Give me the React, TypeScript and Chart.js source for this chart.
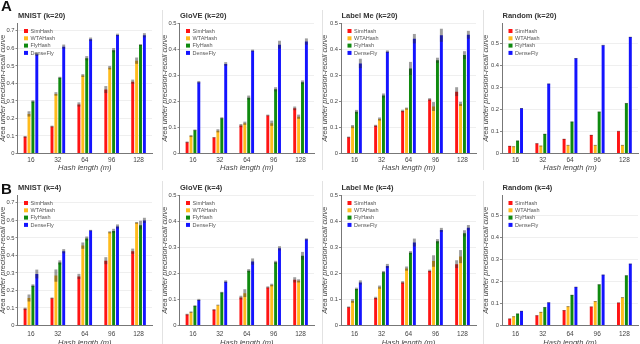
import React, { useEffect, useRef } from 'react';
import { Chart, registerables } from 'chart.js';
Chart.register(...registerables);

const FONT = '"Liberation Sans", Arial, sans-serif';

const hashLengths = ['16', '32', '64', '96', '128'];
const methods = ['SimHash', 'WTAHash', 'FlyHash', 'DenseFly'];
const methodColors = ['#ff1414', '#ffbb1c', '#0f8a0f', '#1414ff'];

// Row A (k=20): rows = SimHash, WTAHash, FlyHash, DenseFly
const mnist20 = [
  [0.095, 0.154, 0.28, 0.365, 0.41],
  [0.226, 0.34, 0.445, 0.49, 0.53],
  [0.297, 0.433, 0.544, 0.59, 0.62],
  [0.567, 0.61, 0.652, 0.677, 0.675],
];
const mnist20Err = [
  [0.005, 0.005, 0.012, 0.02, 0.012],
  [0.015, 0.01, 0.008, 0.01, 0.018],
  [0.007, 0.005, 0.012, 0.012, 0.005],
  [0.01, 0.012, 0.01, 0.007, 0.012],
];
const glove20 = [
  [0.043, 0.061, 0.107, 0.146, 0.173],
  [0.067, 0.087, 0.116, 0.116, 0.141],
  [0.089, 0.135, 0.214, 0.246, 0.273],
  [0.273, 0.343, 0.394, 0.417, 0.429],
];
const glove20Err = [
  [0.003, 0.002, 0.006, 0.003, 0.007],
  [0.004, 0.006, 0.006, 0.01, 0.008],
  [0.003, 0.004, 0.008, 0.008, 0.007],
  [0.005, 0.007, 0.004, 0.015, 0.012],
];
const labelme20 = [
  [0.062, 0.106, 0.163, 0.207, 0.237],
  [0.103, 0.132, 0.172, 0.18, 0.19],
  [0.16, 0.222, 0.326, 0.357, 0.377],
  [0.345, 0.39, 0.44, 0.453, 0.455],
];
const labelme20Err = [
  [0.003, 0.004, 0.005, 0.005, 0.017],
  [0.006, 0.006, 0.004, 0.017, 0.008],
  [0.007, 0.008, 0.025, 0.01, 0.015],
  [0.018, 0.005, 0.018, 0.025, 0.015],
];
const random20 = [
  [0.034, 0.046, 0.066, 0.084, 0.102],
  [0.032, 0.035, 0.038, 0.038, 0.038],
  [0.058, 0.089, 0.145, 0.19, 0.229],
  [0.206, 0.318, 0.434, 0.494, 0.531],
];
const random20Err = [
  [0.0015, 0.0015, 0.0015, 0.0015, 0.0015],
  [0.0015, 0.0015, 0.0015, 0.0015, 0.0015],
  [0.0015, 0.0015, 0.0015, 0.0015, 0.0015],
  [0.0015, 0.0015, 0.0015, 0.0015, 0.0015],
];

// Row B (k=4)
const mnist4 = [
  [0.095, 0.156, 0.28, 0.37, 0.424],
  [0.157, 0.285, 0.456, 0.532, 0.586],
  [0.227, 0.36, 0.496, 0.54, 0.573],
  [0.294, 0.424, 0.542, 0.565, 0.6],
];
const mnist4Err = [
  [0.007, 0.004, 0.015, 0.02, 0.015],
  [0.02, 0.035, 0.018, 0.006, 0.005],
  [0.008, 0.012, 0.012, 0.012, 0.025],
  [0.025, 0.012, 0.004, 0.012, 0.015],
];
const glove4 = [
  [0.042, 0.06, 0.107, 0.146, 0.175],
  [0.051, 0.078, 0.124, 0.155, 0.171],
  [0.075, 0.126, 0.21, 0.242, 0.267],
  [0.098, 0.168, 0.245, 0.296, 0.33],
];
const glove4Err = [
  [0.003, 0.003, 0.007, 0.004, 0.01],
  [0.003, 0.002, 0.015, 0.005, 0.006],
  [0.003, 0.003, 0.006, 0.006, 0.015],
  [0.004, 0.005, 0.012, 0.008, 0.004],
];
const labelme4 = [
  [0.07, 0.105, 0.165, 0.209, 0.235],
  [0.094, 0.147, 0.218, 0.247, 0.264],
  [0.14, 0.204, 0.279, 0.323, 0.353],
  [0.165, 0.228, 0.318, 0.366, 0.375],
];
const labelme4Err = [
  [0.003, 0.005, 0.005, 0.005, 0.015],
  [0.007, 0.006, 0.008, 0.022, 0.025],
  [0.005, 0.005, 0.006, 0.008, 0.012],
  [0.008, 0.008, 0.015, 0.008, 0.01],
];
const random4 = [
  [0.031, 0.046, 0.069, 0.086, 0.104],
  [0.041, 0.061, 0.087, 0.11, 0.128],
  [0.054, 0.083, 0.139, 0.187, 0.228],
  [0.066, 0.105, 0.176, 0.231, 0.281],
];
const random4Err = random20Err;

const panelTitles = [
  ['MNIST (k=20)', 'GloVE (k=20)', 'Label Me (k=20)', 'Random (k=20)'],
  ['MNIST (k=4)', 'GloVE (k=4)', 'Label Me (k=4)', 'Random (k=4)'],
];
const panelValues = [
  [mnist20, glove20, labelme20, random20],
  [mnist4, glove4, labelme4, random4],
];
const panelErrors = [
  [mnist20Err, glove20Err, labelme20Err, random20Err],
  [mnist4Err, glove4Err, labelme4Err, random4Err],
];
const yMaxes = [0.745, 0.5, 0.5, 0.595];

// layout
const colLeft = [0, 162, 322, 483];
const colWidth = [162, 160, 161, 157];
const yAxisW = [17.5, 17.5, 19, 19];
const rightPad = [10, 8, 7, 2];
const rowTop = [0, 172];
const rowTickPad = [2.5, 5];
const rowXH = [19, 21.5];
const CANVAS_H = 180;
const PLOT_TOP = 23;
const PLOT_BOTTOM = 153.5;

type PanelProps = {
  title: string;
  values: number[][];
  errors: number[][];
  yMax: number;
  left: number;
  top: number;
  width: number;
  yw: number;
  rp: number;
  xh: number;
  tickPad: number;
};

function Panel(p: PanelProps) {
  const ref = useRef<HTMLCanvasElement>(null);
  useEffect(() => {
    const errorBars = {
      id: 'errorBars',
      afterDatasetsDraw(chart: any) {
        const ctx = chart.ctx;
        const ys = chart.scales.y;
        chart.data.datasets.forEach((_ds: any, i: number) => {
          const meta = chart.getDatasetMeta(i);
          meta.data.forEach((bar: any, j: number) => {
            const v = p.values[i][j];
            const e = p.errors[i][j];
            if (!e) return;
            const y1 = ys.getPixelForValue(v + e);
            const y2 = ys.getPixelForValue(v - e);
            const w = bar.width;
            ctx.save();
            ctx.fillStyle = 'rgba(40,40,40,0.45)';
            ctx.fillRect(bar.x - w / 2, y1, w, Math.max(1, y2 - y1));
            ctx.restore();
          });
        });
      },
    };
    const titleAndLegend = {
      id: 'titleAndLegend',
      afterDraw(chart: any) {
        const ctx = chart.ctx;
        const a = chart.chartArea;
        ctx.save();
        ctx.font = `bold 7.5px ${FONT}`;
        ctx.fillStyle = '#333';
        ctx.textBaseline = 'middle';
        ctx.textAlign = 'left';
        ctx.fillText(p.title, a.left + 0.5, a.top - 7.5);
        ctx.font = `5.5px ${FONT}`;
        methods.forEach((m, k) => {
          const y = a.top + 8 + k * 7.3;
          const x = a.left + 6.5;
          ctx.fillStyle = methodColors[k];
          ctx.fillRect(x, y - 2, 4, 4);
          ctx.fillStyle = '#555';
          ctx.fillText(m, x + 6.5, y + 0.3);
        });
        ctx.restore();
      },
    };
    const chart = new Chart(ref.current!, {
      type: 'bar',
      data: {
        labels: hashLengths,
        datasets: methods.map((m, i) => ({
          label: m,
          data: p.values[i],
          backgroundColor: methodColors[i],
          borderWidth: 0,
          barPercentage: 0.75,
          categoryPercentage: 0.58,
        })),
      },
      options: {
        responsive: false,
        animation: false,
        devicePixelRatio: 1,
        layout: {
          padding: { top: PLOT_TOP, bottom: CANVAS_H - PLOT_BOTTOM - p.xh, left: 0, right: p.rp },
        },
        plugins: { legend: { display: false }, tooltip: { enabled: false } },
        scales: {
          x: {
            afterFit: (s: any) => {
              s.height = p.xh;
            },
            grid: { display: false, drawTicks: false },
            border: { display: true, color: '#777', width: 1 },
            ticks: {
              font: { size: 6.5, family: FONT },
              color: '#444',
              padding: p.tickPad,
              maxRotation: 0,
              autoSkip: false,
            },
            title: {
              display: true,
              text: 'Hash length (m)',
              font: { size: 7.5, style: 'italic', family: FONT },
              color: '#444',
              padding: 0,
            },
          },
          y: {
            min: 0,
            max: p.yMax,
            afterFit: (s: any) => {
              s.width = p.yw;
            },
            afterBuildTicks: (s: any) => {
              s.ticks = s.ticks.filter(
                (t: any) => Math.abs(t.value * 10 - Math.round(t.value * 10)) < 1e-6
              );
            },
            ticks: {
              stepSize: 0.1,
              font: { size: 5.8, family: FONT },
              color: '#444',
              padding: 1,
            },
            grid: { color: '#efefef', tickLength: 2, tickColor: '#888' },
            border: { display: true, color: '#777', width: 1 },
            title: {
              display: true,
              text: 'Area under precision-recall curve',
              font: { size: 7.3, style: 'italic', family: FONT, lineHeight: 0.8 },
              color: '#444',
              padding: 0,
            },
          },
        },
      },
      plugins: [errorBars, titleAndLegend],
    } as any);
    return () => chart.destroy();
  }, []);
  return (
    <canvas
      ref={ref}
      width={p.width}
      height={CANVAS_H}
      style={{ position: 'absolute', left: p.left, top: p.top, width: p.width, height: CANVAS_H }}
    />
  );
}

export default function App() {
  const panels: React.ReactNode[] = [];
  for (let r = 0; r < 2; r++) {
    for (let c = 0; c < 4; c++) {
      panels.push(
        <Panel
          key={`${r}-${c}`}
          title={panelTitles[r][c]}
          values={panelValues[r][c]}
          errors={panelErrors[r][c]}
          yMax={yMaxes[c]}
          left={colLeft[c]}
          top={rowTop[r]}
          width={colWidth[c]}
          yw={yAxisW[c]}
          rp={rightPad[c]}
          xh={rowXH[r]}
          tickPad={rowTickPad[r]}
        />
      );
    }
  }
  const dividers: React.ReactNode[] = [];
  [162, 322, 483].forEach((x) => {
    dividers.push(
      <div key={`da${x}`} style={{ position: 'absolute', left: x, top: 10, width: 1, height: 160, background: '#e2e2e2' }} />
    );
    dividers.push(
      <div key={`db${x}`} style={{ position: 'absolute', left: x, top: 181, width: 1, height: 163, background: '#e2e2e2' }} />
    );
  });
  return (
    <div style={{ position: 'absolute', left: 0, top: 0, width: 640, height: 344, overflow: 'hidden', background: '#fff' }}>
      {dividers}
      {panels}
      <div style={{ position: 'absolute', left: 1, top: -3, font: `bold 15px ${FONT}`, color: '#111' }}>A</div>
      <div style={{ position: 'absolute', left: 1, top: 180, font: `bold 15px ${FONT}`, color: '#111' }}>B</div>
    </div>
  );
}
